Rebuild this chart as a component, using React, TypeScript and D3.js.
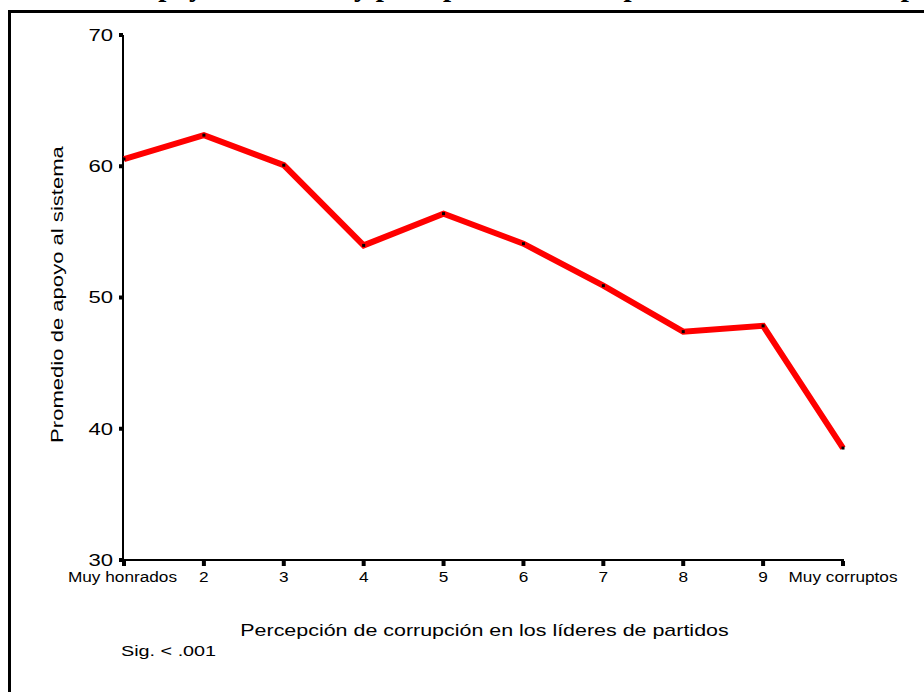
import React from "react";
import * as d3 from "d3";

const categories = ["Muy honrados", "2", "3", "4", "5", "6", "7", "8", "9", "Muy corruptos"];
const values = [60.55, 62.37, 60.08, 53.97, 56.39, 54.1, 50.9, 47.4, 47.84, 38.53];
const yTicks = [30, 40, 50, 60, 70];
const titleText = "Promedio de apoyo al sistema y percepción de corrupción en los líderes de partidos";
const yLabel = "Promedio de apoyo al sistema";
const xLabel = "Percepción de corrupción en los líderes de partidos";
const note = "Sig. < .001";

export default function App() {
  const W = 924, H = 692;
  const x = d3.scalePoint<string>().domain(categories).range([124, 843]);
  const y = d3.scaleLinear().domain([30, 70]).range([560, 35]);
  const line = d3
    .line<number>()
    .x((_, i) => x(categories[i]) as number)
    .y((d) => y(d));
  const sans = "Liberation Sans, Arial, sans-serif";
  return (
    <svg
      width={W}
      height={H}
      style={{ position: "absolute", left: 0, top: 0, background: "#fff" }}
    >
      <text
        x={492}
        y={-4}
        textAnchor="middle"
        fontFamily="Liberation Serif, Times New Roman, serif"
        fontWeight="bold"
        fontSize={29}
      >
        {titleText}
      </text>
      <rect x={9.5} y={11.5} width={1000} height={1000} fill="none" stroke="#000" strokeWidth={3} />
      {/* y axis */}
      <line x1={123} x2={123} y1={y(70)} y2={y(30) + 1} stroke="#000" strokeWidth={2} />
      {yTicks.map((t) => (
        <g key={t}>
          <rect x={119} y={y(t) - 2} width={4} height={4} fill="#000" />
          <text
            transform={`translate(113,${y(t)}) scale(1.3,1)`}
            dy="0.35em"
            textAnchor="end"
            fontFamily={sans}
            fontSize={17}
          >
            {t}
          </text>
        </g>
      ))}
      {/* x axis */}
      <line x1={122} x2={844} y1={560} y2={560} stroke="#000" strokeWidth={2} />
      {categories.map((c) => {
        const cx = x(c) as number;
        const off = c === "Muy corruptos" ? 0 : c === "Muy honrados" ? -1.5 : 0;
        return (
          <g key={c}>
            <rect x={cx - 2} y={561} width={4} height={5} fill="#000" />
            <text
              transform={`translate(${cx + off},582) scale(1.23,1)`}
              textAnchor="middle"
              fontFamily={sans}
              fontSize={14}
            >
              {c}
            </text>
          </g>
        );
      })}
      <path d={line(values) || ""} fill="none" stroke="#ff0000" strokeWidth={6} strokeLinejoin="miter" />
      {values.map((v, i) => (
        <rect
          key={i}
          x={(x(categories[i]) as number) - 1.5}
          y={y(v) - 1.5}
          width={3}
          height={3}
          fill="#000"
        />
      ))}
      <text
        transform={`translate(63,294.5) rotate(-90) scale(1.38,1)`}
        textAnchor="middle"
        fontFamily={sans}
        fontSize={16}
      >
        {yLabel}
      </text>
      <text
        transform={`translate(484.5,636) scale(1.34,1)`}
        textAnchor="middle"
        fontFamily={sans}
        fontSize={16}
      >
        {xLabel}
      </text>
      <text
        transform={`translate(121,656) scale(1.32,1)`}
        fontFamily={sans}
        fontSize={15}
      >
        {note}
      </text>
    </svg>
  );
}
